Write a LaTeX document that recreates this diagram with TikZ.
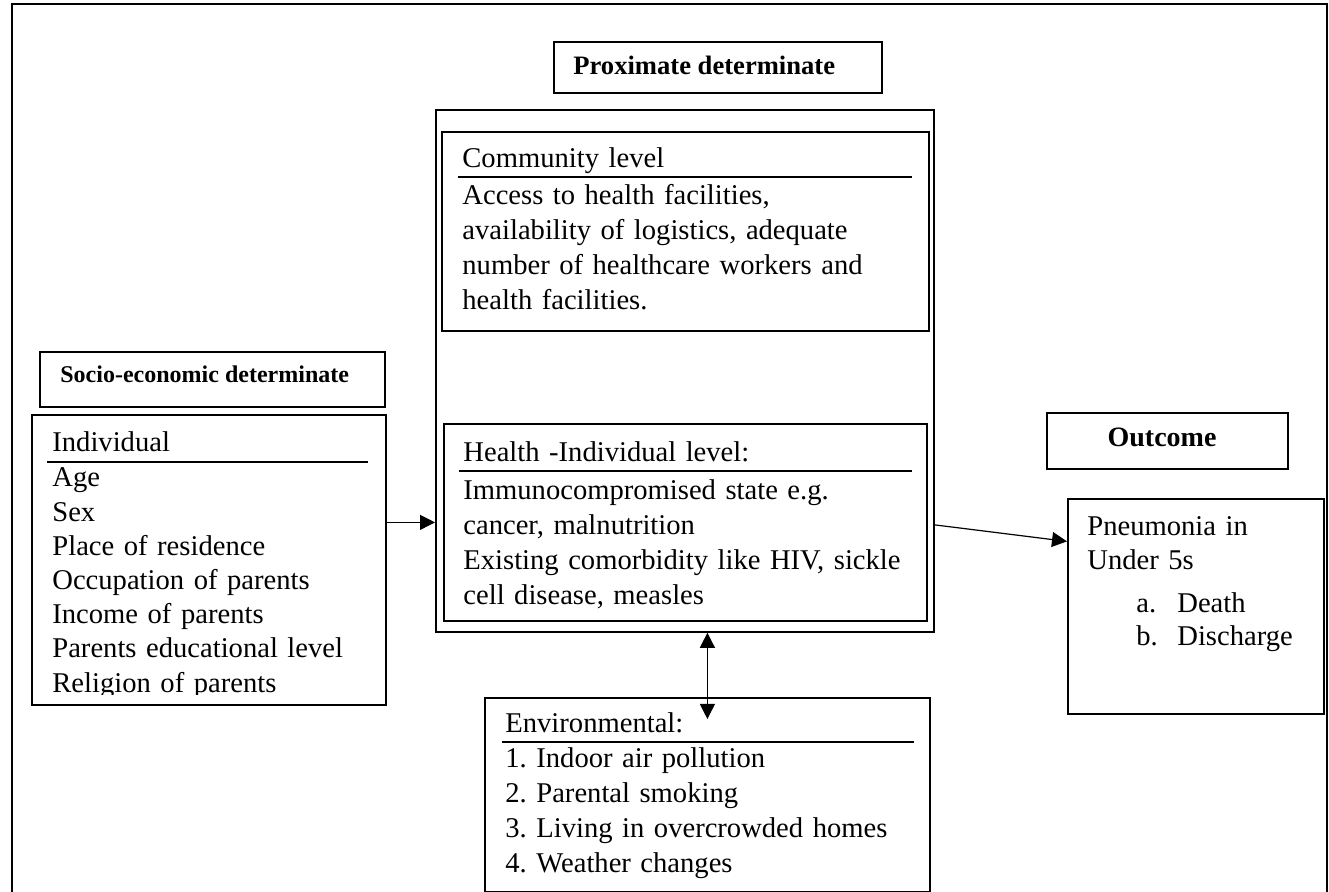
\documentclass[tikz,border=0pt]{standalone}
\usepackage{fontspec}
\setmainfont{Liberation Serif}
\usetikzlibrary{arrows.meta}
\frenchspacing

\tikzset{
  frame/.style={draw, line width=0.9pt, inner sep=0pt, anchor=north west},
  head/.style={font=\bfseries\fontsize{13.3}{16}\selectfont, anchor=base west, inner sep=0pt},
  body/.style={font=\fontsize{14.3}{17.4}\selectfont, anchor=base west, inner sep=0pt,
    align=left, text width=240pt},
  rule/.style={line width=1pt},
  arr/.style={line width=0.6pt, -{Triangle[length=7.5pt,width=7.5pt]}},
  dbl/.style={line width=0.6pt, {Triangle[length=7.5pt,width=7.5pt]}-{Triangle[length=7.5pt,width=7.5pt]}}
}

\begin{document}
\begin{tikzpicture}[x=0.5pt, y=-0.5pt]
  \useasboundingbox (0,0) rectangle (1329,892);

  % outer frame (open at the bottom)
  \draw[line width=1pt] (12,900) -- (12,4) -- (1327,4) -- (1327,900);

  % proximate determinate
  \node[frame, minimum width=164pt, minimum height=25.5pt] (hdprox) at (553,41) {};
  \node[head] (hdproxtext) at (573,75) {Proximate determinate};
  \node[frame, minimum width=249pt, minimum height=261pt] (prox) at (435,109) {};

  % community level
  \node[frame, minimum width=243.5pt, minimum height=99.5pt] (comm) at (441,131) {};
  \node[body] (commtitle) at (462,168) {Community level};
  \draw[rule] (458,177) -- (912,177);
  \node[body] (commtext) at (462,205) {Access to health facilities,\\
    availability of logistics, adequate\\
    number of healthcare workers and\\
    health facilities.};

  % health - individual level
  \node[frame, minimum width=241.5pt, minimum height=98.5pt] (hlth) at (443,423) {};
  \node[body] (hlthtitle) at (463,462) {Health -Individual level:};
  \draw[rule] (459,471) -- (912,471);
  \node[body] (hlthtext) at (463,500) {Immunocompromised state e.g.\\
    cancer, malnutrition\\
    Existing comorbidity like HIV, sickle\\
    cell disease, measles};

  % socio-economic determinate
  \node[frame, minimum width=172.5pt, minimum height=27.5pt] (hdsocio) at (39,351) {};
  \node[head, font=\bfseries\fontsize{12}{14}\selectfont] (hdsociotext) at (60,383) {Socio-economic determinate};
  \node[frame, minimum width=177pt, minimum height=145pt] (socio) at (31,414) {};
  \node[body] (sociotitle) at (52,452) {Individual};
  \draw[rule] (47,462) -- (368,462);
  \begin{scope}
    \clip (31,414) rectangle (385,695);
    \node[body, font=\fontsize{14.3}{17.1}\selectfont] (sociotext) at (52,487) {Age\\
      Sex\\
      Place of residence\\
      Occupation of parents\\
      Income of parents\\
      Parents educational level\\
      Religion of parents};
  \end{scope}

  % environmental
  \node[frame, minimum width=222.5pt, minimum height=97pt] (env) at (484,697) {};
  \node[body] (envtitle) at (505,733) {Environmental:};
  \draw[rule] (502,742) -- (914,742);
  \node[body, font=\fontsize{14.3}{17.5}\selectfont] (envtext) at (505,768) {1. Indoor air pollution\\
    2. Parental smoking\\
    3. Living in overcrowded homes\\
    4. Weather changes};

  % outcome
  \node[frame, minimum width=120.5pt, minimum height=28pt] (hdout) at (1046,412) {};
  \node[head, anchor=base, font=\bfseries\fontsize{14}{16}\selectfont] (hdouttext) at (1162,447) {Outcome};
  \node[frame, minimum width=128pt, minimum height=107.5pt] (outc) at (1067,498) {};
  \node[body, font=\fontsize{14.3}{16.6}\selectfont, text width=120pt] (outctext) at (1087,536) {Pneumonia in\\
    Under 5s\\[5pt]
    \hspace*{24.5pt}\makebox[20.5pt][l]{a.}Death\\
    \hspace*{24.5pt}\makebox[20.5pt][l]{b.}Discharge};

  % connectors
  \draw[arr] (socio.east |- hlth.west) -- (prox.west |- hlth.west);
  \draw[dbl] (prox.south -| env.north) -- ([yshift=-11pt]env.north);
  \draw[arr] ([yshift=-77pt]prox.east) -- ([yshift=32.5pt]outc.west);
\end{tikzpicture}
\end{document}
